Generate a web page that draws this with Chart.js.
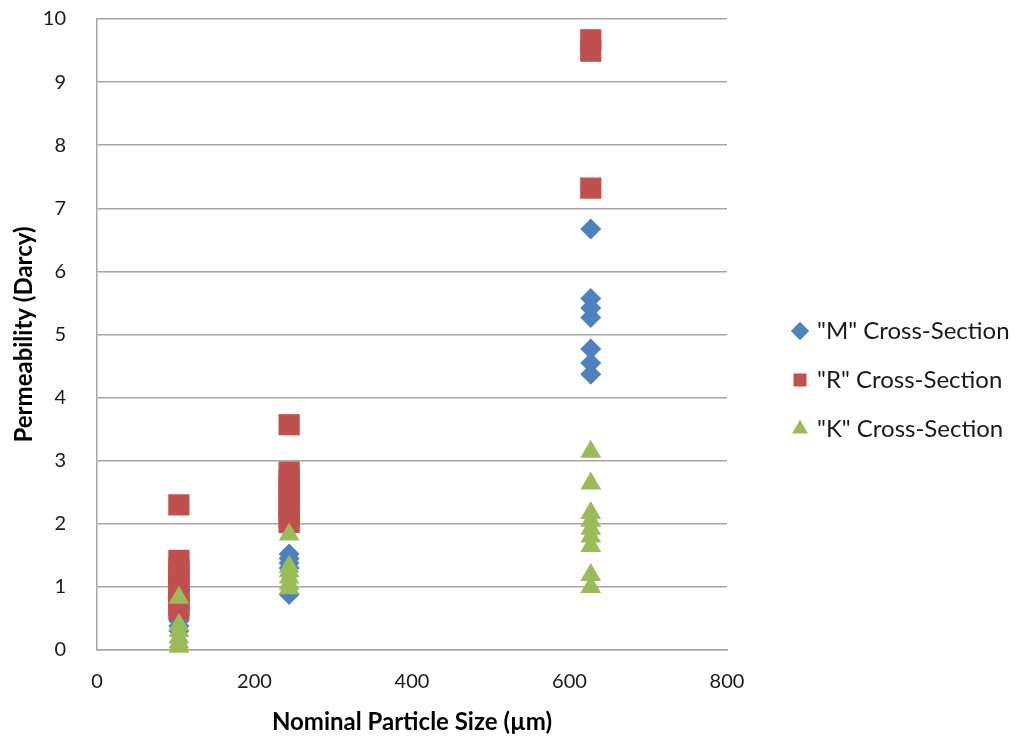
<!DOCTYPE html>
<html>
<head>
<meta charset="utf-8">
<script src="https://cdn.jsdelivr.net/npm/chart.js@4.4.0/dist/chart.umd.min.js"></script>
<style>
html, body { margin: 0; padding: 0; background: #fff; }
</style>
</head>
<body>
<canvas id="permChart" width="1021" height="740"></canvas>
<script>
// nominal particle sizes (um) of the three sample groups
const particleSizes = [104, 244, 627]

// permeability readings (Darcy), one list per particle size
const mPerm = [
  [0.46, 0.38, 0.3],
  [1.52, 1.45, 1.38, 1.3, 0.88],
  [6.67, 5.57, 5.42, 5.27, 4.77, 4.55, 4.37]
]
const rPerm = [
  [2.3, 1.42, 1.3, 1.2, 1.1, 1.0, 0.9, 0.8, 0.7, 0.64],
  [3.57, 2.82, 2.7, 2.6, 2.5, 2.4, 2.3, 2.2, 2.1, 2.02],
  [9.67, 9.49, 7.32]
]
const kPerm = [
  [0.83, 0.4, 0.3, 0.2, 0.12, 0.05],
  [1.83, 1.32, 1.25, 1.15, 1.05, 0.98],
  [3.14, 2.64, 2.17, 2.05, 1.92, 1.8, 1.65, 1.19, 1.0]
]

const seriesNames = ['"M" Cross-Section', '"R" Cross-Section', '"K" Cross-Section']
const xTicks = [0, 200, 400, 600, 800]
const yTicks = [0, 1, 2, 3, 4, 5, 6, 7, 8, 9, 10]

function toPoints(groups){
  const points = []
  groups.forEach((vals, i) => {
    vals.forEach(v => points.push({ x: particleSizes[i], y: v }))
  })
  return points
}

const fontName = 'Lato, "Open Sans", sans-serif'

// keep the legend wide so the plot ends at the 800 line, then nudge it right
const legendPlace = {
  id: 'legendPlace',
  beforeLayout(chart){
    const legend = chart.legend
    if (!legend || legend._patched) return
    const fit = legend.fit
    legend.fit = function(){
      fit.call(this)
      this.width = 294
    }
    legend._patched = true
  },
  afterLayout(chart){
    chart.legend.left += 43
    chart.legend.top += 2
  }
}

new Chart(document.getElementById('permChart').getContext('2d'), {
  type: 'scatter',
  data: {
    datasets: [
      {
        label: seriesNames[0],
        data: toPoints(mPerm),
        pointStyle: 'rectRot',
        pointRadius: 10.5,
        backgroundColor: '#4F81BD',
        borderColor: '#4F81BD',
        borderWidth: 0,
        order: 3,
        clip: false
      },
      {
        label: seriesNames[1],
        data: toPoints(rPerm),
        pointStyle: 'rect',
        pointRadius: 15,
        backgroundColor: '#C0504D',
        borderColor: '#C0504D',
        borderWidth: 0,
        order: 2,
        clip: false
      },
      {
        label: seriesNames[2],
        data: toPoints(kPerm),
        pointStyle: 'triangle',
        pointRadius: 12,
        backgroundColor: '#9BBB59',
        borderColor: '#9BBB59',
        borderWidth: 0,
        order: 1,
        clip: false
      }
    ]
  },
  options: {
    responsive: false,
    animation: false,
    devicePixelRatio: 1,
    layout: { padding: { top: 18, left: 0, right: 0, bottom: 0 } },
    plugins: {
      tooltip: { enabled: false },
      legend: {
        position: 'right',
        labels: {
          usePointStyle: true,
          boxWidth: 10,
          boxHeight: 13,
          padding: 25,
          color: '#1a1a1a',
          font: { family: fontName, size: 24 },
          sort: (a, b) => a.datasetIndex - b.datasetIndex
        }
      }
    },
    scales: {
      x: {
        type: 'linear',
        min: 0,
        max: 800,
        afterBuildTicks: axis => { axis.ticks = xTicks.map(v => ({ value: v })) },
        afterFit: axis => { axis.height = 90 },
        grid: { display: false, drawTicks: false },
        border: { display: true, color: '#a6a6a6', width: 1.5 },
        ticks: { padding: 20, color: '#1a1a1a', font: { family: fontName, size: 20 } },
        title: {
          display: true,
          text: 'Nominal Particle Size (µm)',
          color: '#000',
          font: { family: fontName, size: 24, weight: 'bold' },
          padding: { top: 0, bottom: 3 }
        }
      },
      y: {
        type: 'linear',
        min: 0,
        max: 10,
        afterBuildTicks: axis => { axis.ticks = yTicks.map(v => ({ value: v })) },
        afterFit: axis => { axis.width = 97 },
        // invisible tick marks hold the labels away from the axis line
        grid: { color: '#a6a6a6', lineWidth: 1.5, drawTicks: true, tickLength: 24, tickColor: 'rgba(0,0,0,0)' },
        border: { display: true, color: '#a6a6a6', width: 1.5 },
        ticks: { padding: 7, color: '#1a1a1a', font: { family: fontName, size: 20 } },
        title: {
          display: true,
          text: 'Permeability (Darcy)',
          color: '#000',
          font: { family: fontName, size: 24, weight: 'bold' },
          padding: { top: 10, bottom: 0 }
        }
      }
    }
  },
  plugins: [legendPlace]
})
</script>
</body>
</html>
